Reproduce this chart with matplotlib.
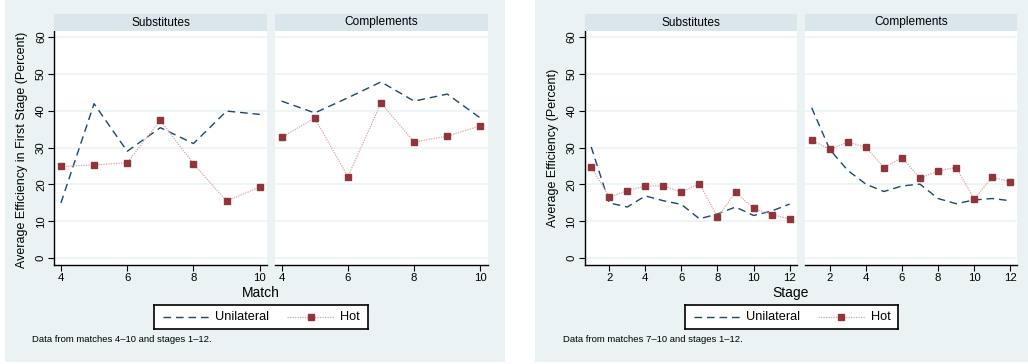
import matplotlib
matplotlib.use("Agg")
import matplotlib.pyplot as plt
from matplotlib.patches import Rectangle
from matplotlib.lines import Line2D

plt.rcParams['font.family'] = ['Liberation Sans', 'DejaVu Sans']

# ---------------- data ----------------
matches = [4, 5, 6, 7, 8, 9, 10]
match_sub_unilateral = [15.0, 41.9, 29.0, 35.4, 31.1, 39.9, 39.0]
match_sub_hot = [24.9, 25.3, 25.9, 37.4, 25.6, 15.5, 19.3]
match_comp_unilateral = [42.6, 39.4, 43.5, 47.8, 42.6, 44.5, 38.0]
match_comp_hot = [32.8, 38.0, 22.1, 42.1, 31.5, 33.1, 35.9]

stages = [1, 2, 3, 4, 5, 6, 7, 8, 9, 10, 11, 12]
stage_sub_unilateral = [30.2, 15.0, 13.9, 16.9, 15.6, 14.6, 10.7, 12.0, 13.9, 11.6, 12.8, 14.7]
stage_sub_hot = [24.7, 16.6, 18.3, 19.6, 19.6, 18.0, 20.2, 11.2, 17.9, 13.5, 11.8, 10.7]
stage_comp_unilateral = [40.8, 29.5, 23.8, 20.1, 18.1, 19.6, 20.1, 16.2, 14.8, 15.8, 16.2, 15.6]
stage_comp_hot = [32.0, 29.5, 31.5, 30.1, 24.6, 27.3, 21.7, 23.7, 24.6, 16.1, 21.9, 20.8]

panel_titles = ["Substitutes", "Complements"]
y_ticks = [0, 10, 20, 30, 40, 50, 60]
match_ticks = [4, 6, 8, 10]
stage_ticks = [2, 4, 6, 8, 10, 12]
series_labels = ["Unilateral", "Hot"]

# ---------------- style ----------------
W, H = 1028, 364
BG = "#eaf2f3"
STRIP = "#d9e6eb"
GRID = "#eaf2f3"
C_UNI = "#1a476f"
C_HOT = "#90353b"
C_HOT_LINE = "#d8a3a7"
MS = 3.7

fig = plt.figure(figsize=(W / 100, H / 100), dpi=100, facecolor="white")


def fx(px):
    return px / W


def fy(py):
    return 1 - py / H


# backgrounds of the two graphs
fig.patches.append(Rectangle((fx(5), fy(362)), fx(500), (362) / H,
                             transform=fig.transFigure, facecolor=BG, edgecolor="none", zorder=-10))
fig.patches.append(Rectangle((fx(535), fy(362)), fx(493), (362) / H,
                             transform=fig.transFigure, facecolor=BG, edgecolor="none", zorder=-10))

ax_top, ax_bot = 31, 265
strip_top = 14


def make_panel(x0, x1, title, xs, uni, hot, xlim, xticks, first):
    ax = fig.add_axes([fx(x0), fy(ax_bot), fx(x1 - x0), (ax_bot - ax_top) / H])
    ax.set_facecolor("white")
    ax.plot(xs, uni, linestyle=(0, (5.5, 3.5)), color=C_UNI, linewidth=1.0, zorder=3)
    ax.plot(xs, hot, linestyle=(0, (1, 1)), color=C_HOT_LINE, linewidth=0.9, zorder=3)
    ax.plot(xs, hot, linestyle="none", marker="s", markersize=MS, color=C_HOT, zorder=4)
    ax.set_xlim(*xlim)
    ax.set_ylim(-1.82, 61.6)
    ax.set_yticks(y_ticks)
    ax.set_xticks(xticks)
    for y in y_ticks:
        ax.axhline(y, color=GRID, linewidth=1.1, zorder=1)
    for s in ["top", "right"]:
        ax.spines[s].set_visible(False)
    ax.spines["bottom"].set_linewidth(1.0)
    ax.spines["left"].set_linewidth(1.0)
    ax.tick_params(axis="x", direction="out", length=4, width=0.8, labelsize=8.2, pad=2)
    if first:
        ax.tick_params(axis="y", direction="out", length=4, width=0.8, labelsize=8.2, pad=2)
        for lab in ax.get_yticklabels():
            lab.set_rotation(90)
            lab.set_va("center")
    else:
        ax.spines["left"].set_visible(False)
        ax.tick_params(axis="y", left=False, labelleft=False)
    # strip
    sax = fig.add_axes([fx(x0), fy(ax_top), fx(x1 - x0), (ax_top - strip_top) / H])
    sax.set_facecolor(STRIP)
    sax.set_xticks([])
    sax.set_yticks([])
    for s in sax.spines.values():
        s.set_visible(False)
    sax.text(0.5, 0.5, title, ha="center", va="center", fontsize=8.6, transform=sax.transAxes)
    return ax


def legend_box(x0, x1, y0, y1):
    lax = fig.add_axes([fx(x0), fy(y1), fx(x1 - x0), (y1 - y0) / H])
    lax.set_xlim(0, 1)
    lax.set_ylim(0, 1)
    lax.set_xticks([])
    lax.set_yticks([])
    lax.set_facecolor("white")
    for s in lax.spines.values():
        s.set_linewidth(1.2)
        s.set_color("black")
    return lax


# ---------- left graph (matches) ----------
make_panel(54.3, 266.7, panel_titles[0], matches, match_sub_unilateral, match_sub_hot,
           (3.80, 10.21), match_ticks, True)
make_panel(275, 487.7, panel_titles[1], matches, match_comp_unilateral, match_comp_hot,
           (3.80, 10.22), match_ticks, False)
fig.text(fx(261), fy(293), "Match", ha="center", va="center", fontsize=10)
fig.text(fx(22.5), fy(150), "Average Efficiency in First Stage (Percent)", rotation=90,
         ha="center", va="center", fontsize=9)
fig.text(fx(32), fy(340), "Data from matches 4\u201310 and stages 1\u201312.", ha="left",
         va="center", fontsize=6.8)

# ---------- right graph (stages) ----------
make_panel(584.7, 796.7, panel_titles[0], stages, stage_sub_unilateral, stage_sub_hot,
           (0.64, 12.39), stage_ticks, True)
make_panel(805, 1017.3, panel_titles[1], stages, stage_comp_unilateral, stage_comp_hot,
           (0.63, 12.39), stage_ticks, False)
fig.text(fx(791), fy(293), "Stage", ha="center", va="center", fontsize=10)
fig.text(fx(553), fy(148), "Average Efficiency (Percent)", rotation=90,
         ha="center", va="center", fontsize=9)
fig.text(fx(563), fy(340), "Data from matches 7\u201310 and stages 1\u201312.", ha="left",
         va="center", fontsize=6.8)


def draw_legend(x0, x1):
    lax = legend_box(x0, x1, 305, 329.3)
    w = x1 - x0
    lax.add_line(Line2D([9 / w, 56 / w], [0.5, 0.5], linestyle=(0, (5.5, 3.5)),
                        color=C_UNI, linewidth=1.0))
    lax.text(61 / w, 0.5, series_labels[0], ha="left", va="center", fontsize=9.2)
    lax.add_line(Line2D([133 / w, 180 / w], [0.5, 0.5], linestyle=(0, (1, 1)),
                        color=C_HOT_LINE, linewidth=0.9))
    lax.plot([156.5 / w], [0.5], marker="s", markersize=MS, color=C_HOT, linestyle="none")
    lax.text(186 / w, 0.5, series_labels[1], ha="left", va="center", fontsize=9.2)


draw_legend(154, 367.7)
draw_legend(684.7, 897.7)

fig.savefig("out.png", dpi=100, facecolor="white")
